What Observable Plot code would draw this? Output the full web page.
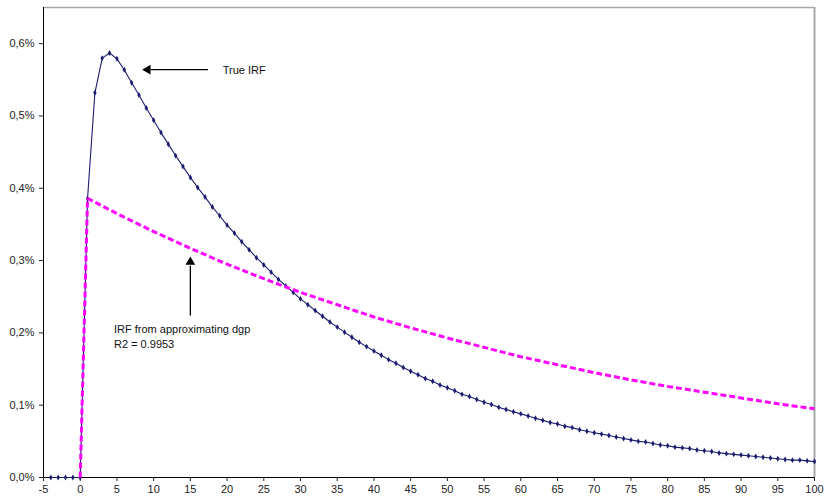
<!DOCTYPE html>
<html>
<head>
<meta charset="utf-8">
<script src="https://cdn.jsdelivr.net/npm/d3@7"></script>
<script src="https://cdn.jsdelivr.net/npm/@observablehq/plot@0.6"></script>
<style>
  html, body { margin: 0; padding: 0; background: #fff; }
  #chart { width: 826px; height: 499px; }
  svg { font-family: "Liberation Sans", Arial, sans-serif; }
</style>
</head>
<body>
<div id="chart"></div>
<script>
// ---- data (values in %) ----
const xStart = -4;
const trueIRF = [
  0, 0, 0, 0, 0,
  0.386, 0.532, 0.580, 0.587, 0.579, 0.564, 0.546, 0.529, 0.511, 0.494,
  0.477, 0.461, 0.445, 0.430, 0.415, 0.401, 0.388, 0.374, 0.362, 0.349,
  0.338, 0.326, 0.315, 0.304, 0.294, 0.284, 0.274, 0.265, 0.256, 0.247,
  0.239, 0.231, 0.223, 0.215, 0.208, 0.201, 0.194, 0.187, 0.181, 0.175,
  0.169, 0.163, 0.158, 0.152, 0.147, 0.142, 0.137, 0.133, 0.128, 0.124,
  0.120, 0.115, 0.112, 0.108, 0.104, 0.101, 0.097, 0.094, 0.091, 0.088,
  0.085, 0.082, 0.079, 0.076, 0.074, 0.071, 0.069, 0.066, 0.064, 0.062,
  0.060, 0.058, 0.056, 0.054, 0.052, 0.050, 0.049, 0.047, 0.045, 0.044,
  0.042, 0.041, 0.040, 0.038, 0.037, 0.036, 0.034, 0.033, 0.032, 0.031,
  0.030, 0.029, 0.028, 0.027, 0.026, 0.025, 0.024, 0.024, 0.023, 0.022
];
const approxX = [0, 1, 5, 10, 15, 20, 25, 30, 35, 40, 45, 50, 55, 60, 65, 70, 75, 80, 85, 90, 95, 100];
const approxY = [0, 0.386, 0.365, 0.340, 0.317, 0.295, 0.275, 0.256, 0.239, 0.222, 0.207, 0.193, 0.180, 0.167, 0.156, 0.145, 0.135, 0.126, 0.118, 0.110, 0.102, 0.095];
const xTicks = d3.range(-5, 101, 5);
const yTicks = [0, 0.1, 0.2, 0.3, 0.4, 0.5, 0.6];
const yTop = 0.65;

// annotations (data coordinates)
const arrowShafts = [
  {x1: 17.4, y1: 0.564, x2: 9.6, y2: 0.564},
  {x: 15, x1: 15, y1: 0.224, x2: 15, y2: 0.293}
];
const arrowHeads = [
  {x: 9.2, y: 0.564, rot: -90},
  {x: 15, y: 0.298, rot: 0}
];
const labels = [
  {x: 19.4, y: 0.5636, text: "True IRF"},
  {x: 4.6, y: 0.2043, text: "IRF from approximating dgp"},
  {x: 4.6, y: 0.1839, text: "R2 = 0.9953"}
];

const trueData = trueIRF.map((v, i) => ({x: xStart + i, y: v}));
const approxData = approxX.map((x, i) => ({x, y: approxY[i]}));

const navy = "#1c1c70";
const magenta = "#ff00ff";

const chart = Plot.plot({
  width: 826,
  height: 499,
  marginLeft: 43,
  marginRight: 12,
  marginTop: 7,
  marginBottom: 22,
  style: {fontFamily: "'Liberation Sans', Arial, sans-serif", fontSize: "11px", color: "#222", background: "#fff"},
  x: {domain: [-5, 100]},
  y: {domain: [0, yTop]},
  marks: [
    Plot.ruleY([yTop], {stroke: "#a8a8a8", strokeWidth: 1.5}),
    Plot.ruleX([100], {stroke: "#a8a8a8", strokeWidth: 2}),
    Plot.ruleX([-5], {stroke: "#000", strokeWidth: 1}),
    Plot.ruleY([0], {stroke: "#000", strokeWidth: 1}),
    Plot.axisY({ticks: yTicks, tickFormat: d => d.toFixed(1).replace(".", ",") + "%", tickSize: 4, tickPadding: 5, label: null, fontSize: 11}),
    Plot.axisX({ticks: xTicks, tickFormat: d => String(d), tickSize: 4, tickPadding: 4, label: null, fontSize: 11}),
    Plot.line(trueData, {x: "x", y: "y", stroke: navy, strokeWidth: 1.1}),
    Plot.dot(trueData, {x: "x", y: "y", r: 1.8, fill: navy, stroke: null, symbol: "diamond"}),
    Plot.line(approxData, {x: "x", y: "y", stroke: magenta, strokeWidth: 3, strokeDasharray: "6,3", strokeLinecap: "butt", strokeLinejoin: "miter"}),
    Plot.link(arrowShafts, {x1: "x1", y1: "y1", x2: "x2", y2: "y2", stroke: "#000", strokeWidth: 1.3}),
    Plot.dot(arrowHeads, {x: "x", y: "y", symbol: "triangle", r: 3.6, fill: "#000", stroke: null, rotate: "rot"}),
    Plot.text(labels, {x: "x", y: "y", text: "text", textAnchor: "start", fontSize: 11, fill: "#111"})
  ]
});
document.getElementById("chart").appendChild(chart);
</script>
</body>
</html>
